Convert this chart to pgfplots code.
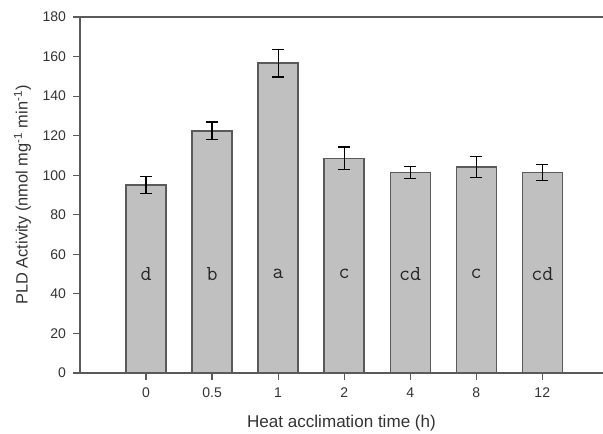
\documentclass[border=0pt]{standalone}
\usepackage{fontspec}
\setmainfont{Liberation Sans}
\usepackage{pgfplots}
\pgfplotsset{compat=1.18}
\definecolor{barfill}{HTML}{C0C0C0}
\definecolor{frame}{HTML}{5A5A5A}

\begin{document}
\begin{tikzpicture}
\begin{axis}[
  at={(0pt,0pt)}, anchor=south west,
  scale only axis, width=392.25pt, height=267pt,
  xmin=-1, xmax=6.92, ymin=0, ymax=180,
  ybar, bar width=30pt,
  axis x line=box, axis y line=left,
  axis line style={-, frame, line width=1pt},
  xtick={0,...,6}, xticklabels={0,0.5,1,2,4,8,12},
  xtick pos=left, ytick={0,20,...,180},
  tick align=outside, major tick length=5pt,
  tick style={frame, line width=0.9pt},
  /pgf/number format/assume math mode=true,
  tick label style={font=\fontsize{10.5}{12}\selectfont, black!80},
  xticklabel style={yshift=-2.5pt},
  yticklabel style={xshift=-2pt},
  xlabel={Heat acclimation time (h)},
  ylabel={PLD Activity (nmol mg\textsuperscript{-1} min\textsuperscript{-1})},
  xlabel style={font=\fontsize{12.8}{14}\selectfont, black!80,
    at={(axis description cs:0.5,0)}, anchor=center, yshift=-37.5pt},
  ylabel style={font=\fontsize{12.3}{14}\selectfont, black!80,
    at={(axis description cs:-0.11,0.5)}, anchor=center},
  clip=false,
]
\addplot[fill=barfill, draw=frame, line width=1pt,
  error bars/.cd, y dir=both, y explicit,
  error bar style={black, line width=0.9pt},
  error mark options={rotate=90, mark size=4.5pt, black, line width=0.9pt}]
  coordinates {
    (0,95.0) +- (0,4.4)
    (1,122.4) +- (0,4.5)
    (2,156.7) +- (0,7.0)
    (3,108.6) +- (0,5.7)
    (4,101.4) +- (0,3.0)
    (5,104.2) +- (0,5.2)
    (6,101.5) +- (0,4.0)};
\tikzset{lett/.style={font=\ttfamily\fontsize{16}{18}\selectfont, black!85}}
\node[lett] at (axis cs:0,50) {d};
\node[lett] at (axis cs:1,50) {b};
\node[lett] at (axis cs:2,50) {a};
\node[lett] at (axis cs:3,50) {c};
\node[lett] at (axis cs:4,50) {cd};
\node[lett] at (axis cs:5,50) {c};
\node[lett] at (axis cs:6,50) {cd};
\end{axis}
\pgfresetboundingbox
\useasboundingbox (-60pt,-45.75pt) rectangle (392.25pt,279.75pt);
\end{tikzpicture}
\end{document}
